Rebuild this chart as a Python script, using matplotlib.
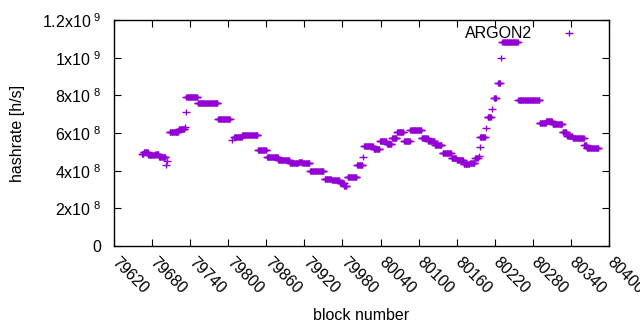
import numpy as np
import matplotlib
matplotlib.use("Agg")
import matplotlib.pyplot as plt
from matplotlib.path import Path
from matplotlib.transforms import ScaledTranslation

plt.rcParams['font.family'] = ['Liberation Sans', 'DejaVu Sans']
plt.rcParams['mathtext.fontset'] = 'custom'
plt.rcParams['mathtext.rm'] = 'Liberation Sans'

# Runs of blocks with constant hashrate (start block, end block, hashrate [h/s])
run_start = [79664, 79667, 79674, 79685, 79691, 79702, 79704, 79708, 79722, 79732,
             79733, 79734, 79752, 79784, 79806, 79809, 79822, 79847, 79861, 79879,
             79889, 79897, 79911, 79917, 79929, 79952, 79963, 79976, 79983, 79988,
             80003, 80012, 80014, 80029, 80039, 80050, 80058, 80066, 80077, 80087,
             80105, 80115, 80126, 80138, 80152, 80160, 80171, 80181, 80189, 80195,
             80196, 80197, 80206, 80209, 80216, 80219, 80225, 80230, 80232, 80257,
             80291, 80301, 80311, 80327, 80334, 80343, 80361, 80365]
run_end = [79666, 79673, 79684, 79690, 79701, 79702, 79704, 79721, 79731, 79732,
           79733, 79751, 79783, 79802, 79806, 79821, 79846, 79860, 79878, 79888,
           79896, 79910, 79916, 79928, 79950, 79962, 79975, 79982, 79986, 80002,
           80011, 80012, 80028, 80038, 80049, 80057, 80065, 80076, 80086, 80104,
           80114, 80125, 80136, 80151, 80159, 80170, 80180, 80188, 80193, 80195,
           80196, 80204, 80206, 80214, 80216, 80222, 80228, 80230, 80256, 80290,
           80300, 80310, 80326, 80333, 80342, 80360, 80364, 80383]
run_value = [4.88e8, 4.98e8, 4.84e8, 4.89e8, 4.72e8, 4.31e8, 4.52e8, 6.07e8, 6.20e8, 6.34e8,
             7.10e8, 7.90e8, 7.58e8, 6.73e8, 5.62e8, 5.78e8, 5.88e8, 5.09e8, 4.70e8, 4.56e8,
             4.58e8, 4.40e8, 4.48e8, 4.40e8, 4.00e8, 3.55e8, 3.48e8, 3.34e8, 3.21e8, 3.69e8,
             4.31e8, 4.75e8, 5.33e8, 5.14e8, 5.58e8, 5.42e8, 5.72e8, 6.04e8, 5.60e8, 6.16e8,
             5.72e8, 5.56e8, 5.37e8, 4.96e8, 4.66e8, 4.54e8, 4.36e8, 4.43e8, 4.66e8, 4.79e8,
             5.24e8, 5.78e8, 6.25e8, 6.85e8, 7.26e8, 7.88e8, 8.66e8, 9.97e8, 10.82e8, 7.74e8,
             6.52e8, 6.63e8, 6.47e8, 6.04e8, 5.86e8, 5.72e8, 5.35e8, 5.23e8]

x_ticks = list(range(79620, 80401, 60))
y_ticks = [0, 2e8, 4e8, 6e8, 8e8, 1e9, 1.2e9]
y_ticklabels = ['0',
                r'$\mathregular{2x10^{\ 8}}$', r'$\mathregular{4x10^{\ 8}}$',
                r'$\mathregular{6x10^{\ 8}}$', r'$\mathregular{8x10^{\ 8}}$',
                r'$\mathregular{1x10^{\ 9}}$', r'$\mathregular{1.2x10^{\ 9}}$']
series_name = 'ARGON2'

blocks = np.concatenate([np.arange(s, e + 1) for s, e in zip(run_start, run_end)])
values = np.concatenate([np.full(e - s + 1, v) for s, e, v in zip(run_start, run_end, run_value)])

plus = Path([(-1, 0), (1, 0), (0, -0.8), (0, 0.8)],
            [Path.MOVETO, Path.LINETO, Path.MOVETO, Path.LINETO])
color = '#9400D3'

fig = plt.figure(figsize=(6.4, 3.3), dpi=100)
ax = fig.add_axes([114/640, 1 - 246/330, 495/640, 226/330])
ax.plot(blocks, values, linestyle='none', marker=plus, markersize=5.8,
        markeredgewidth=1.0, color=color, label=series_name)

ax.set_xlim(79620, 80400)
ax.set_ylim(0, 1.2e9)
ax.set_xticks(x_ticks)
ax.set_xticklabels([str(t) for t in x_ticks], rotation=-45, ha='left', va='top',
                   rotation_mode='anchor')
ax.set_yticks(y_ticks)
ax.set_yticklabels(y_ticklabels)
fs = 11.5
ax.tick_params(direction='in', top=True, right=True, length=5, width=0.8,
               labelsize=fs, colors='black')
ax.tick_params(axis='x', pad=6)
ax.tick_params(axis='y', pad=9)
for sp in ax.spines.values():
    sp.set_linewidth(1.0)

offset = ScaledTranslation(6/100, 0, fig.dpi_scale_trans)
for lbl in ax.get_xticklabels():
    lbl.set_transform(lbl.get_transform() + offset)

ax.set_xlabel('block number', fontsize=fs)
ax.set_ylabel('hashrate [h/s]', fontsize=fs)
ax.xaxis.set_label_coords(0.5, -0.275)
ax.yaxis.set_label_coords(-0.18, 0.5)

ax.legend(loc='upper right', bbox_to_anchor=(1, 1.016), frameon=False,
          markerfirst=False, fontsize=fs, handlelength=3.8, handletextpad=0.4,
          borderaxespad=0, borderpad=0.62)

fig.savefig('out.png', dpi=100)
